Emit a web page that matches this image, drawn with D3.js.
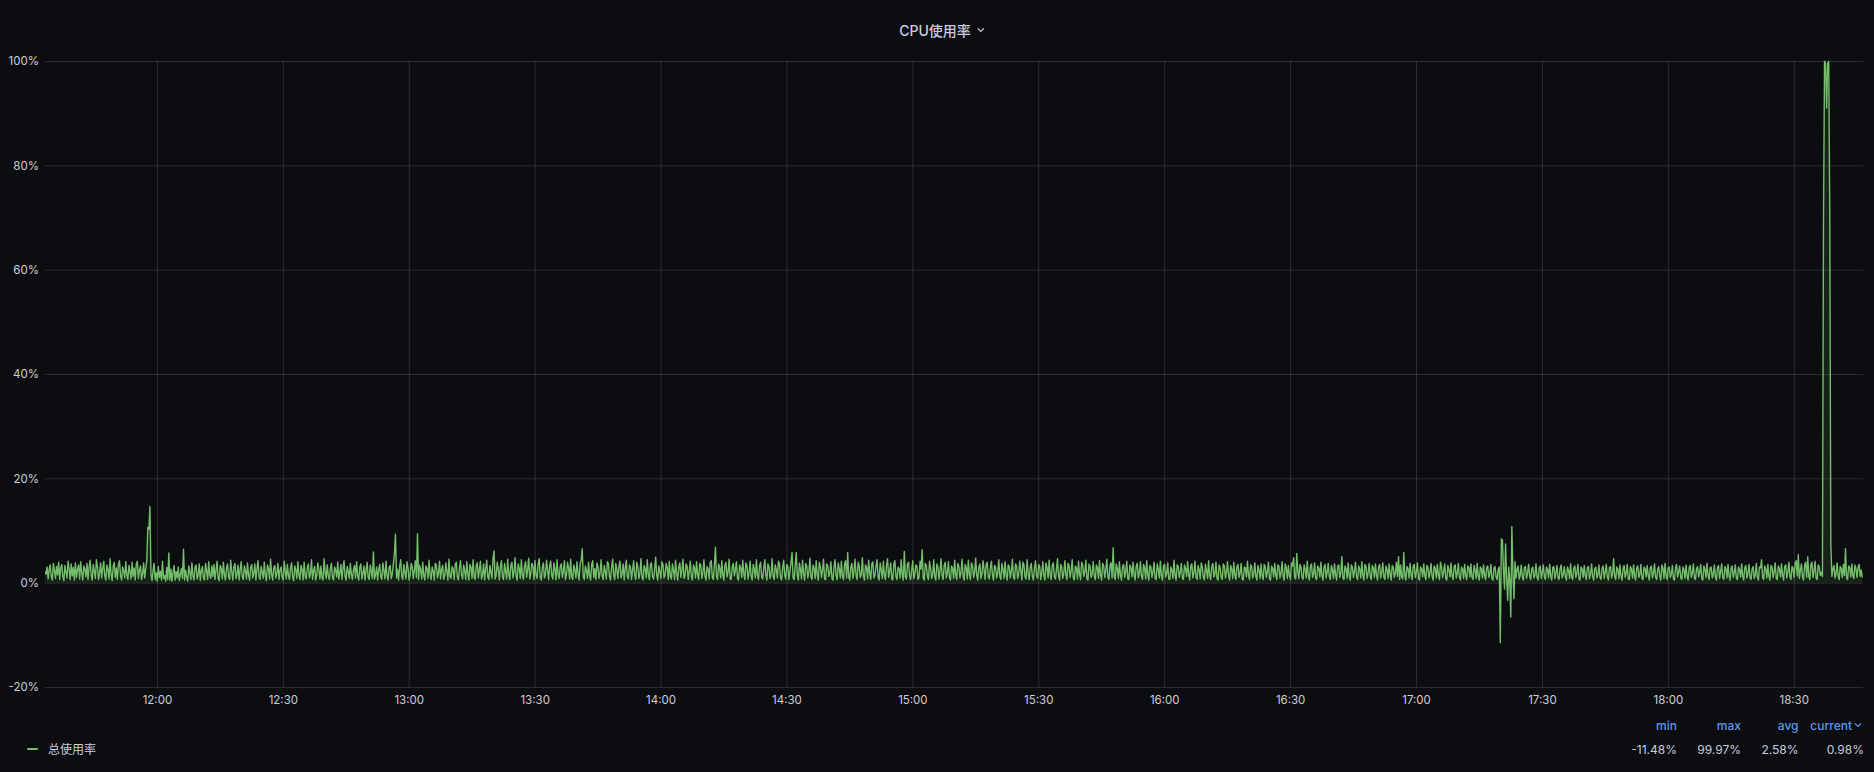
<!DOCTYPE html>
<html><head><meta charset="utf-8">
<script src="https://cdn.jsdelivr.net/npm/d3@7"></script>
<style>
html,body{margin:0;padding:0;background:#0c0d10;}
svg{display:block;}
text{font-family:Inter,"Noto Sans CJK SC",sans-serif;}
</style></head><body>
<svg id="chart" width="1874" height="772"></svg>
<script>
const chartTitle = "CPU使用率";
const seriesName = "总使用率";
const startTime = Date.UTC(2024, 0, 1, 11, 33, 20);
const endTime = Date.UTC(2024, 0, 1, 18, 46, 30);
const stepSeconds = 15;
const cpuValues = [
2.2,1.6,3.0,0.7,2.6,3.4,1.1,0.5,3.7,2.4, 0.8,3.1,1.5,3.9,0.6,2.8,3.5,1.2,0.4,3.3, 2.0,0.9,4.1,2.7,0.6,3.6,1.3,2.9,0.5,3.8, 1.0,2.5,3.4,0.7,4.0,1.8,0.5,3.2,2.6,1.1,
3.7,0.6,2.9,4.3,1.4,0.5,3.5,2.2,0.8,4.4, 3.0,0.6,1.9,3.8,0.9,2.7,4.1,1.2,0.5,3.4, 2.5,0.7,4.6,1.6,0.4,3.2,3.9,1.0,2.8,0.6, 3.6,4.2,1.3,0.5,3.0,2.3,0.9,4.0,1.5,0.6,
3.3,2.1,0.7,3.9,1.2,2.8,0.5,3.6,4.1,0.8, 2.4,3.2,0.6,1.7,3.8,0.9,2.6,4.2,10.6,10.2, 14.6,1.5,0.4,2.3,3.7,0.6,1.9,0.3,3.1,1.0, 2.2,0.5,4.1,0.8,1.4,0.3,2.9,0.6,5.7,0.5,
2.6,0.3,1.8,3.3,0.5,2.1,0.9,3.0,0.4,1.6, 2.7,0.8,6.4,0.5,2.4,1.1,0.3,3.2,2.0,0.6, 3.8,1.3,0.5,2.9,3.4,0.7,1.5,3.6,0.4,2.3, 3.1,0.9,0.5,3.7,2.2,0.6,4.0,1.4,0.8,3.2,
1.2,3.5,0.6,2.4,4.1,0.9,0.4,3.3,2.7,0.7, 3.9,1.5,0.5,2.8,3.6,1.0,0.6,4.3,2.1,0.5, 3.0,3.7,0.8,1.6,3.4,0.5,2.5,4.0,1.1,0.6, 3.2,2.3,0.7,3.8,1.4,0.5,2.9,3.5,0.9,1.8,
3.6,0.5,2.6,4.2,1.2,0.6,3.1,2.0,0.8,3.9, 1.3,0.4,3.4,2.7,0.7,4.5,1.6,0.5,2.9,3.3, 0.9,1.8,3.7,0.6,2.4,3.0,1.1,0.5,4.1,2.2, 0.7,3.5,1.4,0.6,2.8,3.8,1.0,0.4,3.2,2.5,
0.8,4.0,1.5,0.6,3.3,2.6,0.5,3.9,1.2,0.7, 2.9,3.6,0.9,1.7,4.4,0.6,2.3,3.1,0.5,1.4, 3.8,2.5,0.7,3.2,1.0,0.5,4.6,2.0,0.8,3.4, 1.3,0.6,2.7,3.7,0.9,0.5,3.0,2.4,1.1,3.9,
0.7,1.9,3.5,0.6,2.8,4.2,1.2,0.5,3.1,2.2, 0.8,3.7,1.6,0.6,2.5,3.3,0.9,4.0,1.3,0.5, 2.9,3.6,0.7,1.8,3.2,0.5,2.4,3.9,1.0,0.6, 3.4,2.1,0.8,5.9,0.7,1.5,3.0,0.5,2.6,3.5,
1.1,0.6,3.8,2.3,0.7,4.1,1.4,0.5,2.9,3.3, 0.8,1.7,3.6,5.5,9.3,0.9,2.6,0.5,3.1,4.4, 1.2,0.6,3.5,2.0,0.7,4.0,2.8,0.5,1.5,3.7, 3.0,0.8,2.4,4.2,1.0,9.4,0.6,3.3,2.5,0.7,
3.9,1.3,0.5,3.2,2.7,0.8,4.3,1.6,0.6,3.0, 2.2,0.5,3.7,3.4,0.9,1.8,4.1,0.7,2.5,3.3, 0.6,1.4,3.8,2.1,0.5,4.5,1.2,0.8,3.1,2.6, 0.6,3.6,3.9,1.0,0.5,2.8,4.2,1.5,0.7,3.4,
2.3,0.6,4.0,1.7,0.5,3.5,2.9,0.8,4.4,1.2, 0.6,3.2,3.8,0.9,2.4,4.1,0.7,1.5,3.6,0.5, 2.7,4.3,1.1,0.6,3.3,2.0,0.8,4.6,6.1,0.7, 1.4,3.9,2.6,0.5,3.0,4.2,1.0,0.6,3.7,2.2,
0.7,4.5,1.6,0.6,3.4,3.9,0.9,2.1,4.8,1.2, 0.5,3.6,2.8,0.8,4.4,1.5,0.6,3.1,4.0,1.0, 2.5,4.7,0.7,1.8,3.7,3.2,0.6,4.2,1.4,0.8, 3.5,4.6,1.1,0.5,2.9,3.8,0.9,1.6,4.3,2.4,
0.6,3.3,4.1,1.3,0.7,3.8,2.6,0.5,4.4,1.7, 0.8,3.0,3.6,1.0,2.2,4.2,0.6,1.5,3.9,2.8, 0.7,4.5,1.2,0.6,3.4,2.5,0.9,4.0,1.8,0.5, 3.7,4.3,6.5,1.1,0.6,3.2,2.4,0.8,3.9,1.4,
0.5,3.5,4.2,1.0,2.7,0.6,3.8,3.1,0.8,1.9, 4.4,1.3,0.6,3.3,2.2,0.7,4.0,3.6,1.1,0.5, 2.9,4.5,1.5,0.6,3.7,2.4,0.8,3.2,4.1,0.9, 1.7,3.6,0.5,2.8,4.3,1.2,0.7,3.4,3.0,0.6,
2.5,4.2,1.4,0.6,3.9,3.1,0.8,1.8,4.6,1.0, 0.5,3.3,2.7,0.9,4.4,1.6,0.6,3.5,3.8,1.1, 0.7,2.6,4.9,1.3,0.5,3.2,2.1,0.8,4.0,3.4, 0.9,1.5,3.7,2.9,0.6,4.1,1.2,0.7,3.6,2.3,
0.6,4.3,1.7,0.5,3.0,3.8,1.0,2.4,4.5,0.8, 1.3,3.6,3.1,0.6,2.2,4.1,1.1,0.5,3.4,2.8, 0.9,4.0,1.5,0.6,3.7,3.3,0.8,1.9,4.4,1.2, 0.5,3.1,2.6,0.7,3.9,4.2,1.0,0.6,3.5,6.8,
1.2,0.6,3.6,2.8,0.9,4.2,1.5,0.5,3.3,3.9, 1.1,2.0,4.5,0.7,0.6,3.1,3.7,1.3,2.5,4.0, 0.8,0.5,3.4,2.9,1.0,4.3,1.6,0.6,3.8,3.2, 0.7,1.9,4.1,1.2,0.5,3.5,2.6,0.9,4.4,1.4,
0.6,3.2,3.9,1.1,0.7,2.7,4.4,1.5,0.5,3.6, 3.0,0.8,1.7,4.6,1.2,0.6,3.4,2.5,0.9,4.1, 3.7,1.0,0.5,2.9,4.3,1.4,0.7,3.5,3.1,0.6, 2.2,4.0,5.8,0.9,0.6,3.3,5.8,1.3,0.5,3.8,
2.6,0.7,4.3,1.6,0.5,3.7,3.2,0.9,2.0,4.7, 1.1,0.6,3.4,2.8,0.8,4.2,1.5,0.5,3.9,3.0, 1.0,2.4,4.5,0.7,0.6,3.6,3.3,1.2,1.8,4.0, 0.8,0.5,3.1,4.4,1.4,0.6,3.8,2.7,0.9,4.1,
1.3,0.6,3.5,4.2,0.9,5.8,1.1,0.5,3.0,3.7, 0.8,2.3,4.5,1.4,0.6,3.9,3.2,1.0,1.6,4.8, 1.2,0.5,3.4,2.9,0.7,4.3,1.8,0.6,3.6,4.0, 0.9,1.5,3.1,4.4,1.1,0.5,3.8,2.5,0.8,4.1,
1.4,0.6,3.3,4.6,1.0,2.2,3.8,0.7,0.5,3.5, 4.2,1.2,0.6,3.0,2.7,0.9,4.4,1.6,0.5,6.0, 1.1,0.7,3.6,3.9,1.3,0.6,2.4,4.2,0.8,1.7, 3.4,3.1,0.6,1.0,4.1,2.6,6.3,0.9,0.5,3.7,
3.3,1.2,0.6,4.1,2.8,0.8,1.5,4.4,1.1,0.5, 3.6,3.0,0.7,2.3,4.6,1.3,0.6,3.4,3.9,0.9, 1.8,4.0,1.0,0.5,3.2,2.7,0.8,4.3,1.5,0.6, 3.7,3.1,0.9,2.0,4.5,1.2,0.5,3.5,2.9,0.7,
4.3,1.6,0.6,3.8,3.2,1.0,2.1,4.7,1.3,0.5, 3.0,3.6,0.8,1.7,4.2,2.5,0.6,3.5,3.9,1.1, 0.7,2.8,4.1,1.4,0.5,3.3,3.0,0.9,1.9,4.4, 1.2,0.6,3.7,2.6,0.8,4.0,1.5,0.5,3.4,3.1,
0.9,2.2,4.5,1.0,0.6,3.6,3.2,0.8,1.6,4.1, 2.4,0.5,3.9,3.4,1.1,0.7,4.4,1.8,0.6,3.0, 3.7,1.2,0.5,2.7,4.2,1.4,0.8,3.5,3.1,0.6, 2.0,4.0,1.3,0.5,3.8,2.9,0.9,4.3,1.5,0.6,
3.3,3.8,1.1,0.7,2.6,4.6,1.2,0.5,3.5,3.0, 0.8,1.9,4.2,1.4,0.6,3.7,3.3,1.0,2.3,4.4, 0.9,0.5,3.2,2.8,0.7,4.1,1.6,0.6,3.9,3.4, 1.2,2.1,4.3,0.8,0.5,3.6,3.1,1.0,1.7,4.0,
1.3,0.6,3.4,2.9,0.8,4.2,1.5,0.5,3.7,3.2, 1.0,2.4,4.5,1.1,0.6,3.3,3.8,0.9,6.7,1.2, 0.6,3.6,2.7,0.8,4.0,1.4,0.5,3.1,3.5,1.0, 2.2,4.1,0.7,0.6,3.4,2.9,1.1,3.9,1.6,0.5,
3.2,3.7,0.9,1.8,4.0,1.2,0.6,3.5,2.8,0.7, 4.2,1.5,0.5,3.3,3.0,1.0,2.1,3.9,0.8,0.6, 3.6,2.6,0.9,4.1,1.3,0.5,3.2,3.5,1.1,1.7, 3.8,0.7,0.6,3.0,2.4,0.8,4.3,1.4,0.5,3.4,
3.1,1.0,2.0,3.7,0.8,0.6,3.4,2.7,1.2,4.0, 1.5,0.5,3.2,3.6,0.9,1.9,4.1,1.1,0.6,3.3, 2.5,0.7,3.8,3.0,1.0,0.5,3.5,2.2,0.8,4.2, 1.4,0.6,3.1,3.7,1.1,1.6,3.9,0.8,0.5,3.4,
2.9,1.0,0.6,3.6,3.2,0.9,2.1,4.0,1.3,0.5, 3.3,2.6,0.8,3.9,1.5,0.6,3.1,3.5,1.0,1.8, 3.7,0.7,0.5,3.0,2.8,1.1,4.1,1.4,0.6,3.4, 3.1,0.9,1.7,3.8,1.2,0.5,3.3,2.5,0.8,3.6,
1.3,0.6,3.5,3.0,1.0,2.0,3.9,0.8,0.5,3.2, 2.7,1.1,3.7,1.5,0.6,3.4,3.1,0.9,1.9,4.0, 1.2,0.5,3.6,2.9,0.8,3.3,1.4,0.6,3.8,3.2, 4.8,1.0,0.7,5.6,2.1,0.8,3.5,3.0,1.1,0.6,
3.4,2.6,0.9,4.1,1.3,0.5,3.1,3.6,1.0,1.7, 3.8,0.8,0.6,3.2,2.8,1.1,3.9,1.4,0.5,3.0, 3.5,0.9,2.0,3.7,1.2,0.6,3.3,2.5,0.8,3.6, 1.5,0.5,3.1,3.4,1.0,1.8,5.0,0.9,0.6,3.2,
2.7,0.8,3.8,1.3,0.5,3.4,3.0,1.0,2.2,3.9, 1.1,0.6,3.2,2.6,0.9,4.0,1.5,0.5,3.5,3.1, 0.8,1.9,3.7,1.2,0.6,3.3,2.8,1.0,3.6,1.4, 0.5,3.0,3.5,0.9,2.1,3.8,1.1,0.6,3.2,2.5,
0.8,3.6,1.6,0.5,3.3,2.9,1.0,1.8,3.9,1.2, 5.0,0.6,3.4,1.1,0.7,5.8,1.3,0.5,3.1,2.7, 0.9,3.7,1.5,0.6,3.2,3.5,1.0,2.0,3.8,0.8, 0.5,3.0,2.6,1.1,3.6,1.4,0.6,3.3,3.0,0.9,
1.9,3.7,1.2,0.5,3.2,2.8,0.9,3.5,1.5,0.6, 3.9,3.0,1.0,2.1,3.6,0.8,0.5,3.3,2.5,1.1, 3.8,1.3,0.6,3.1,3.4,0.9,1.8,3.7,1.0,0.5, 3.0,2.7,0.8,3.5,1.4,0.6,3.2,2.9,1.1,3.6,
1.0,0.6,3.3,2.4,0.8,3.7,1.2,0.5,3.0,2.7, 0.9,3.4,1.4,0.6,2.9,3.2,1.0,1.7,3.5,0.8, 0.5,2.8,3.1,1.1,0.6,2.5,3.0,-11.48,8.4,8.2, 2.5,-1.2,7.4,1.0,-3.4,3.0,0.5,-6.6,10.8,2.0,
-3.1,4.0,0.9,2.6,3.2,0.7,1.5,3.4,1.0,0.5, 2.9,3.1,0.8,1.9,3.5,1.2,0.6,2.7,3.0,0.9, 1.4,3.6,1.0,0.5,2.8,3.2,0.8,2.0,3.4,1.1, 0.6,3.0,2.5,0.9,3.5,1.3,0.5,2.9,3.1,0.8,
1.8,3.3,1.0,0.6,2.7,3.4,0.9,1.6,3.1,1.2, 0.5,3.0,2.4,0.8,3.6,1.1,0.6,2.8,3.2,1.0, 1.9,3.5,0.7,0.5,3.0,2.6,1.0,3.3,1.4,0.6, 2.9,3.1,0.8,1.7,3.6,1.2,0.5,2.7,3.0,0.9,
1.5,3.4,1.0,0.6,2.8,3.2,0.8,2.0,3.5,1.1, 0.5,2.9,3.1,0.9,1.7,4.6,1.2,0.6,3.0,2.5, 0.8,3.4,1.3,0.5,2.7,3.3,1.0,1.8,3.5,0.7, 0.6,3.1,2.6,0.9,3.4,1.2,0.5,2.8,3.2,1.0,
1.6,3.5,0.8,0.6,3.0,2.7,1.1,3.3,1.4,0.5, 2.9,3.2,0.9,1.9,3.6,1.0,0.6,2.6,3.1,1.2, 0.5,3.4,2.8,0.8,3.7,1.3,0.6,2.9,3.0,1.0, 1.7,3.3,0.7,0.5,2.8,3.5,1.1,2.1,3.2,0.9,
0.6,3.0,2.5,0.8,3.4,1.2,0.5,2.9,3.3,1.0, 1.8,3.6,0.9,0.6,2.7,3.1,1.1,2.0,3.5,0.8, 0.5,3.2,2.6,1.0,3.7,1.4,0.6,2.8,3.0,0.9, 1.6,3.4,1.1,0.5,2.9,3.3,0.8,2.2,3.6,1.0,
0.6,3.1,2.7,0.9,3.5,1.3,0.5,2.8,3.2,1.0, 1.9,3.4,0.8,0.6,3.0,2.5,1.1,3.6,1.2,0.5, 2.9,3.3,0.9,1.7,3.5,1.0,0.6,2.6,3.1,0.8, 1.4,3.7,1.1,0.5,3.0,2.8,4.4,1.0,0.6,3.2,
2.6,0.9,3.5,1.2,0.5,3.3,3.0,1.0,2.1,3.8, 0.8,0.6,3.2,2.7,1.1,3.6,1.4,0.5,3.0,3.4, 0.9,2.0,3.9,1.2,0.6,3.1,2.8,1.0,3.7,4.2, 1.3,5.4,0.8,2.4,3.6,1.1,0.5,3.3,3.9,1.0,
5.0,1.2,0.6,3.5,3.9,1.0,2.3,4.1,0.8,0.6, 3.4,3.0,1.4,2.0,1.2,68.6,99.97,99.5,91.0,99.6, 99.9,70.4,7.5,1.2,2.6,3.3,0.9,1.7,3.8,1.2, 0.6,3.1,2.7,1.0,3.5,1.4,6.5,0.9,0.6,3.2,
2.9,1.1,3.6,1.3,0.8,3.4,2.6,1.0,3.1,3.5,1.2,2.4,0.98
];
const yTickValues = [-20, 0, 20, 40, 60, 80, 100];
const xTickLabels = ["12:00","12:30","13:00","13:30","14:00","14:30","15:00","15:30","16:00","16:30","17:00","17:30","18:00","18:30"];
const statNames = ["min", "max", "avg", "current"];
const statValues = ["-11.48%", "99.97%", "2.58%", "0.98%"];

(function () {
const W = 1874, H = 772;
const plotLeft = 45, plotRight = 1863, plotTop = 61, plotBottom = 687;
const textColor = "#ccccdc";
const gridColor = "rgba(204,204,220,0.17)";
const lineColor = "#73bf69";
const linkColor = "#5b97ee";

const data = cpuValues.map((v, i) => ({ t: new Date(startTime + i * stepSeconds * 1000), v }));
const xTicks = xTickLabels.map(s => { const [h, m] = s.split(":").map(Number); return new Date(Date.UTC(2024, 0, 1, h, m)); });

const x = d3.scaleUtc().domain([new Date(startTime), new Date(endTime)]).range([plotLeft, plotRight]);
const y = d3.scaleLinear().domain([-20, 100]).range([plotBottom, plotTop]);

const svg = d3.select("#chart");
svg.append("rect").attr("width", W).attr("height", H).attr("fill", "#0c0d10");

// title
const titleText = svg.append("text").attr("x", 935).attr("y", 30).attr("text-anchor", "middle")
  .attr("dominant-baseline", "central").attr("fill", textColor).attr("font-size", 14).attr("font-weight", 500)
  .text(chartTitle);
const tb = titleText.node().getBBox();
svg.append("path").attr("d", `M${tb.x + tb.width + 7},28.5 l3,3 l3,-3`).attr("fill", "none")
  .attr("stroke", textColor).attr("stroke-width", 1.1);

// y axis with grid
const yAxis = svg.append("g").attr("transform", `translate(${plotLeft},0)`)
  .call(d3.axisLeft(y).tickValues(yTickValues).tickSize(-(plotRight - plotLeft)).tickPadding(6).tickFormat(d => d + "%"));
yAxis.select(".domain").remove();
yAxis.selectAll("line").attr("stroke", gridColor);
yAxis.selectAll("text").attr("fill", textColor).attr("font-size", 11.5).attr("font-family", "Inter, sans-serif");

// x axis with grid
const xAxis = svg.append("g").attr("transform", `translate(0,${plotBottom})`)
  .call(d3.axisBottom(x).tickValues(xTicks).tickSize(-(plotBottom - plotTop)).tickPadding(9).tickFormat(d3.utcFormat("%H:%M")));
xAxis.select(".domain").remove();
xAxis.selectAll("line").attr("stroke", gridColor);
xAxis.selectAll("text").attr("fill", textColor).attr("font-size", 11.5).attr("font-family", "Inter, sans-serif");

// clip
svg.append("clipPath").attr("id", "plotclip").append("rect")
  .attr("x", plotLeft).attr("y", plotTop - 2).attr("width", plotRight - plotLeft).attr("height", plotBottom - plotTop + 4);

const area = d3.area().x(d => x(d.t)).y0(y(0)).y1(d => y(d.v));
const line = d3.line().x(d => x(d.t)).y(d => y(d.v));
const plot = svg.append("g").attr("clip-path", "url(#plotclip)");
plot.append("path").datum(data).attr("d", area).attr("fill", lineColor).attr("fill-opacity", 0.12);
plot.append("path").datum(data).attr("d", line).attr("fill", "none").attr("stroke", lineColor)
  .attr("stroke-width", 1.4).attr("stroke-linejoin", "round");

// legend
svg.append("rect").attr("x", 27).attr("y", 748).attr("width", 11).attr("height", 2).attr("rx", 1).attr("fill", lineColor);
svg.append("text").attr("x", 48).attr("y", 749).attr("dominant-baseline", "central").attr("fill", textColor)
  .attr("font-size", 12).text(seriesName);

const statRight = [1677, 1741, 1798.5, 1864];
statNames.forEach((n, i) => {
  const hx = i === 3 ? statRight[i] - 12 : statRight[i];
  svg.append("text").attr("x", hx).attr("y", 725).attr("text-anchor", "end").attr("dominant-baseline", "central")
    .attr("fill", linkColor).attr("font-size", 12).attr("font-weight", 500).text(n);
  svg.append("text").attr("x", statRight[i]).attr("y", 749).attr("text-anchor", "end").attr("dominant-baseline", "central")
    .attr("fill", textColor).attr("font-size", 12).text(statValues[i]);
});
svg.append("path").attr("d", "M1855,723.5 l3,3 l3,-3").attr("fill", "none").attr("stroke", linkColor).attr("stroke-width", 1.1);
})();
</script>
</body></html>
